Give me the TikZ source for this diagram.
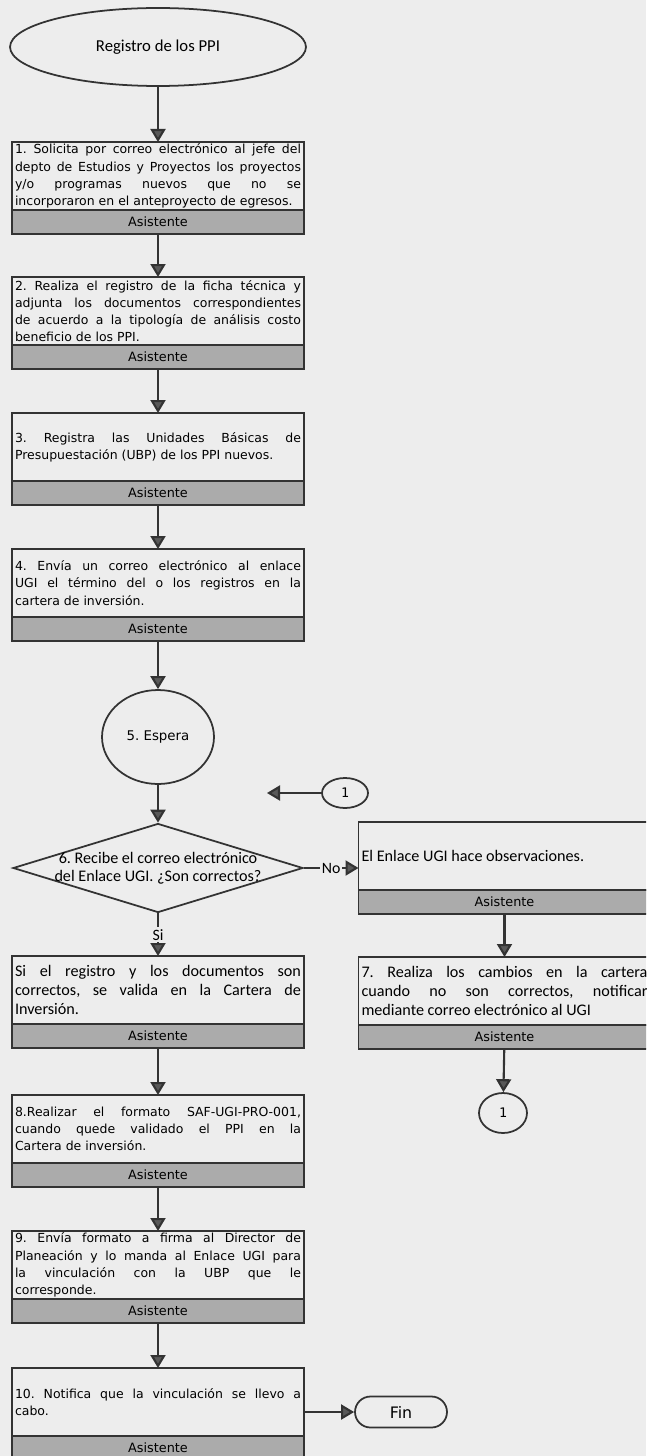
\documentclass[tikz,border=0pt]{standalone}
\usepackage{fontspec}
\setmainfont{Carlito}
\newfontfamily\anchafont{DejaVu Sans}
\newfontfamily\numfont{DejaVu Sans Mono}
\usepackage{tikz}
\usetikzlibrary{shapes.geometric,arrows.meta,positioning}
\definecolor{papel}{gray}{0.93}
\definecolor{trama}{gray}{0.67}
\definecolor{trazo}{gray}{0.2}
\newcommand{\ancha}{\anchafont\fontsize{7.1}{9.8}\selectfont}
\newcommand{\calib}{\fontsize{9.2}{11}\selectfont}
\hyphenpenalty=10000
\exhyphenpenalty=10000
\frenchspacing

\begin{document}
\begin{tikzpicture}[x=0.02cm,y=-0.02cm,
    linea/.style={draw=trazo,line width=1pt},
    flecha/.style={draw=trazo,line width=1.2pt,-{Triangle[width=0.3cm,length=0.26cm,fill=black!65]}},
    caja/.style={linea,rectangle,outer sep=0pt,minimum width=5.84cm,minimum height=1.36cm,
        text width=5.72cm,inner xsep=0.06cm,inner ysep=0pt,align=justify,font=\ancha},
    cajac/.style={caja,font=\calib},
    banda/.style={linea,rectangle,outer sep=0pt,fill=trama,minimum width=5.84cm,
        minimum height=0.48cm,inner sep=0pt,font=\anchafont\fontsize{7.3}{9}\selectfont},
    conector/.style={linea,ellipse,inner sep=0pt,font=\numfont\fontsize{7.5}{9}\selectfont},
    etq/.style={fill=papel,inner sep=1pt,font=\fontsize{9}{10}\selectfont}]
    \fill[papel] (0,0) rectangle (646,1456);
    \useasboundingbox (0,0) rectangle (646,1456);
    \clip (0,0) rectangle (646,1456);

    \node[linea,ellipse,minimum width=5.92cm,minimum height=1.56cm,font=\fontsize{9.5}{11}\selectfont] (inicio) at (158,47) {Registro de los PPI};

    \node[caja,anchor=north] (p1) at (158,142) {1. Solicita por correo electrónico al jefe del\linebreak depto de Estudios y Proyectos los proyectos\linebreak y/o programas nuevos que no se\linebreak \mbox{incorporaron en el anteproyecto de egresos.}};
    \node[banda,below=0pt of p1] (a1) {Asistente};

    \node[caja,anchor=north] (p2) at (158,277) {2. Realiza el registro de la ficha técnica y\linebreak adjunta los documentos correspondientes\linebreak de acuerdo a la tipología de análisis costo\linebreak beneficio de los PPI.};
    \node[banda,below=0pt of p2] (a2) {Asistente};

    \node[caja,anchor=north] (p3) at (158,413) {3. Registra las Unidades Básicas de\linebreak Presupuestación (UBP) de los PPI nuevos.};
    \node[banda,below=0pt of p3] (a3) {Asistente};

    \node[caja,anchor=north] (p4) at (158,549) {4. Envía un correo electrónico al enlace\linebreak UGI el término del o los registros en la\linebreak cartera de inversión.};
    \node[banda,below=0pt of p4] (a4) {Asistente};

    \node[linea,ellipse,minimum width=2.24cm,minimum height=1.88cm,font=\anchafont\fontsize{7.6}{9}\selectfont] (espera) at (158,737) {5. Espera};

    \node[conector,minimum width=0.92cm,minimum height=0.6cm] (c1a) at (345,793) {1};
    \coordinate (c1fin) at (267,793);

    \node[linea,diamond,minimum width=5.8cm,minimum height=1.78cm,inner sep=0pt,
        label={[name=t6,font=\fontsize{9.2}{10.5}\selectfont,align=center]center:6. Recibe el correo electrónico\\del Enlace UGI. ¿Son correctos?}] (d6) at (158,868) {};

    \node[cajac,anchor=north] (obs) at (504.5,822) {El Enlace UGI hace observaciones.};
    \node[banda,below=0pt of obs] (aobs) {Asistente};

    \node[cajac,anchor=north] (psi) at (158,956) {Si el registro y los documentos son\linebreak correctos, se valida en la Cartera de\linebreak Inversión.};
    \node[banda,below=0pt of psi] (asi) {Asistente};

    \node[cajac,anchor=north] (p7) at (504.5,957) {7. Realiza los cambios en la cartera\linebreak cuando no son correctos, notificar\linebreak mediante correo electrónico al UGI};
    \node[banda,below=0pt of p7] (a7) {Asistente};

    \node[conector,minimum width=0.96cm,minimum height=0.8cm] (c1b) at (503,1113) {1};

    \node[caja,anchor=north] (p8) at (158,1095) {8.Realizar el formato \mbox{SAF-UGI-PRO-001,}\linebreak cuando quede validado el PPI en la\linebreak Cartera de inversión.};
    \node[banda,below=0pt of p8] (a8) {Asistente};

    \node[caja,anchor=north] (p9) at (158,1231) {9. Envía formato a firma al Director de\linebreak Planeación y lo manda al Enlace UGI para\linebreak la vinculación con la UBP que le\linebreak corresponde.};
    \node[banda,below=0pt of p9] (a9) {Asistente};

    \node[caja,anchor=north] (p10) at (158,1368) {10. Notifica que la vinculación se llevo a\linebreak cabo.};
    \node[banda,below=0pt of p10] (a10) {Asistente};

    \node[linea,rectangle,rounded corners=0.31cm,minimum width=1.84cm,minimum height=0.62cm,
        font=\anchafont\fontsize{9}{10}\selectfont] (fin) at (401,1412) {Fin};

    \draw[flecha] (inicio) -- (p1);
    \draw[flecha] (a1) -- (p2);
    \draw[flecha] (a2) -- (p3);
    \draw[flecha] (a3) -- (p4);
    \draw[flecha] (a4) -- (espera);
    \draw[flecha] (espera) -- (d6);
    \draw[flecha] (c1a) -- (c1fin);
    \draw[flecha] (d6.east) -- node[etq] (no) {No} (d6.east -| obs.west);
    \draw[flecha] (d6) -- node[etq] (si) {Si} (psi);
    \draw[flecha] (aobs) -- (p7);
    \draw[flecha] (a7) -- (c1b);
    \draw[flecha] (asi) -- (p8);
    \draw[flecha] (a8) -- (p9);
    \draw[flecha] (a9) -- (p10);
    \draw[flecha] (p10.east |- fin) -- (fin);
\end{tikzpicture}
\end{document}
